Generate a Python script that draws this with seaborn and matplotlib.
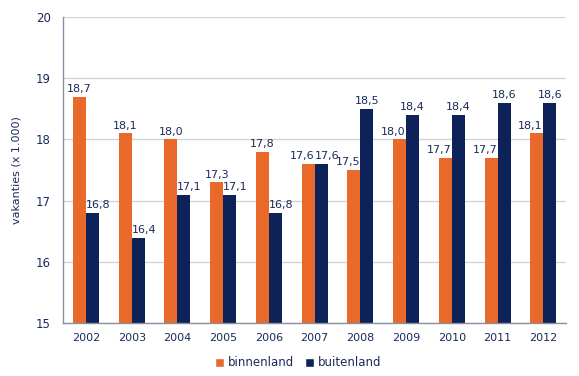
import pandas as pd
import matplotlib
matplotlib.use("Agg")
import matplotlib.pyplot as plt
import seaborn as sns
from matplotlib.patches import Patch
from matplotlib.transforms import offset_copy

# Data
jaren = ["2002", "2003", "2004", "2005", "2006", "2007", "2008", "2009", "2010", "2011", "2012"]
binnenland = [18.7, 18.1, 18.0, 17.3, 17.8, 17.6, 17.5, 18.0, 17.7, 17.7, 18.1]
buitenland = [16.8, 16.4, 17.1, 17.1, 16.8, 17.6, 18.5, 18.4, 18.4, 18.6, 18.6]

series = ["binnenland", "buitenland"]
kleuren = ["#E8692A", "#0D2259"]
tekst = "#1B2A5C"

df = pd.DataFrame({
    "jaar": jaren * 2,
    "waarde": binnenland + buitenland,
    "soort": ["binnenland"] * len(jaren) + ["buitenland"] * len(jaren),
})

sns.set_style("white")
plt.rcParams["font.family"] = ["DejaVu Sans"]

fig, ax = plt.subplots(figsize=(5.79, 3.76), dpi=100)
fig.subplots_adjust(left=0.109, right=0.978, top=0.955, bottom=0.14)

sns.barplot(data=df, x="jaar", y="waarde", hue="soort", palette=kleuren,
            hue_order=series, width=0.57, ax=ax, legend=False, saturation=1,
            linewidth=0)

ax.set_ylim(15, 20)
ax.set_yticks([15, 16, 17, 18, 19, 20])
ax.set_xlim(-0.5, len(jaren) - 0.5)
ax.yaxis.grid(True, color="#D0D0D0", linewidth=0.9)
ax.set_axisbelow(True)

for s in ["top", "right"]:
    ax.spines[s].set_visible(False)
for s in ["left", "bottom"]:
    ax.spines[s].set_color("#8A8FA0")
    ax.spines[s].set_linewidth(1.0)

# tick marks between the categories on the x axis
ax.set_xticks(range(len(jaren)))
ax.set_xticklabels(jaren)
ax.tick_params(axis="x", length=0, labelsize=8, labelcolor=tekst, pad=7)
ax.set_xticks([i - 0.5 for i in range(len(jaren) + 1)], minor=True)
ax.tick_params(axis="x", which="minor", length=5, color="#8A8FA0")
ax.tick_params(axis="y", length=5, color="#8A8FA0", labelsize=8.5, labelcolor=tekst, pad=4)

ax.set_xlabel("")
ax.set_ylabel("vakanties (x 1.000)", fontsize=8, color=tekst, labelpad=10)

# value labels; move a label away from the neighbouring bar when that bar is as tall or taller
for k, container in enumerate(ax.containers):
    eigen = binnenland if k == 0 else buitenland
    ander = buitenland if k == 0 else binnenland
    for i, b in enumerate(container):
        dx = 0
        if ander[i] >= eigen[i] - 0.05:
            dx = -4.5 if k == 0 else 4
        tr = offset_copy(ax.transData, fig=fig, x=dx, y=2, units="points")
        ax.text(b.get_x() + b.get_width() / 2, b.get_height(),
                f"{eigen[i]:.1f}".replace(".", ","), transform=tr,
                ha="center", va="bottom", fontsize=8, color=tekst, zorder=10)

handles = [Patch(facecolor=k, label=s) for k, s in zip(kleuren, series)]
fig.legend(handles=handles, loc="center", bbox_to_anchor=(0.515, 0.035),
           ncol=2, frameon=False, fontsize=8.5, handlelength=0.75, handleheight=0.75,
           handletextpad=0.3, columnspacing=1.0, labelcolor=tekst)

fig.savefig("out.png", dpi=100)
